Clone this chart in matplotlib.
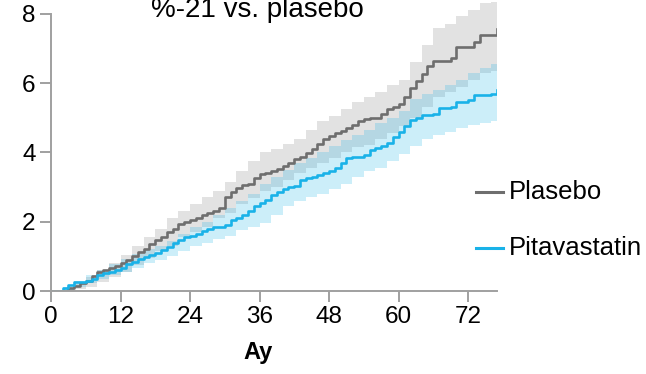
import numpy as np
import matplotlib
matplotlib.use('Agg')
from matplotlib import pyplot as plt
from matplotlib.lines import Line2D

plt.rcParams['font.family'] = ['Liberation Sans', 'DejaVu Sans']

# monthly cumulative incidence
line_months = list(range(0, 78))
plasebo = [0, 0, 0, 0.1, 0.15, 0.23, 0.3, 0.42, 0.55, 0.62, 0.66, 0.72, 0.8, 0.9, 1.0, 1.12,
           1.2, 1.35, 1.47, 1.57, 1.7, 1.8, 1.93, 2.0, 2.05, 2.12, 2.2, 2.25, 2.3, 2.4,
           2.7, 2.85, 2.98, 3.05, 3.1, 3.25, 3.38, 3.42, 3.45, 3.52, 3.6, 3.7, 3.8, 3.88,
           3.97, 4.1, 4.25, 4.38, 4.47, 4.55, 4.62, 4.7, 4.8, 4.9, 4.97, 4.98, 5.0, 5.1,
           5.25, 5.3, 5.4, 5.6, 5.85, 6.05, 6.25, 6.5, 6.65, 6.65, 6.65, 6.73, 7.05, 7.05,
           7.05, 7.2, 7.4, 7.4, 7.4, 7.55]
pita = [0, 0, 0.08, 0.18, 0.25, 0.27, 0.3, 0.36, 0.45, 0.52, 0.55, 0.6, 0.67, 0.78, 0.85, 0.93,
        0.99, 1.05, 1.1, 1.18, 1.28, 1.38, 1.48, 1.55, 1.6, 1.65, 1.72, 1.78, 1.84, 1.86,
        1.9, 2.05, 2.12, 2.2, 2.3, 2.45, 2.55, 2.63, 2.77, 2.85, 2.95, 3.0, 3.02, 3.2,
        3.27, 3.3, 3.35, 3.4, 3.45, 3.55, 3.7, 3.83, 3.87, 3.87, 3.92, 4.07, 4.12, 4.2,
        4.28, 4.45, 4.6, 4.75, 4.94, 4.98, 5.08, 5.08, 5.1, 5.28, 5.28, 5.3, 5.47, 5.47,
        5.5, 5.66, 5.66, 5.66, 5.7, 5.8]

# confidence bands
band_months = [0, 2, 4, 6, 8, 10, 12, 14, 16, 18, 20, 22, 24, 26, 28, 30, 32, 34, 36, 38,
               40, 42, 44, 46, 48, 50, 52, 54, 56, 58, 60, 62, 64, 66, 68, 70, 72, 74, 76, 77]
plasebo_hi = [0, 0.05, 0.2, 0.4, 0.6, 0.8, 1.05, 1.3, 1.55, 1.8, 2.1, 2.3, 2.5, 2.7, 2.9, 3.15,
              3.45, 3.75, 4.0, 4.1, 4.25, 4.4, 4.65, 4.9, 5.05, 5.25, 5.45, 5.6, 5.75, 5.95,
              6.1, 6.6, 7.1, 7.6, 7.7, 7.95, 8.1, 8.3, 8.35, 8.4]
plasebo_lo = [0, 0, 0.05, 0.12, 0.25, 0.4, 0.55, 0.75, 0.95, 1.15, 1.3, 1.55, 1.7, 1.85, 2.1, 2.25,
              2.5, 2.68, 2.9, 3.0, 3.2, 3.4, 3.55, 3.7, 3.85, 4.0, 4.15, 4.22, 4.4, 4.55,
              4.75, 5.0, 5.3, 5.6, 5.75, 5.9, 6.1, 6.3, 6.35, 6.4]
pita_hi = [0, 0.12, 0.3, 0.45, 0.6, 0.78, 0.92, 1.08, 1.2, 1.3, 1.45, 1.65, 1.85, 2.0, 2.2, 2.4,
           2.6, 2.8, 3.1, 3.3, 3.5, 3.7, 3.85, 4.0, 4.2, 4.35, 4.5, 4.65, 4.85, 5.0,
           5.2, 5.55, 5.7, 5.8, 5.95, 6.1, 6.3, 6.45, 6.55, 6.75]
pita_lo = [0, 0.02, 0.12, 0.22, 0.35, 0.45, 0.55, 0.65, 0.8, 0.9, 1.0, 1.15, 1.3, 1.4, 1.5, 1.6,
           1.75, 1.85, 1.95, 2.2, 2.45, 2.6, 2.7, 2.8, 2.95, 3.1, 3.3, 3.45, 3.55, 3.75,
           3.95, 4.2, 4.4, 4.5, 4.6, 4.7, 4.8, 4.85, 4.9, 4.95]

xticks = [0, 12, 24, 36, 48, 60, 72]
yticks = [0, 2, 4, 6, 8]

gray = '#6e6e6e'
blue = '#19b2e8'
axis_col = '#a0a0a0'

fig = plt.figure(figsize=(6.46, 3.74), dpi=100)
ax = fig.add_axes([51/646, 1 - 291/374, (497 - 51)/646, 291/374])

# bands
ax.fill_between(band_months, plasebo_lo, plasebo_hi, step='post', color='#e2e2e2', lw=0, clip_on=False)
ax.fill_between(band_months, pita_lo, pita_hi, step='post', color=blue, alpha=0.22, lw=0, clip_on=False)
# lines
ax.plot(line_months, plasebo, drawstyle='steps-post', color=gray, lw=1.9)
ax.plot(line_months, pita, drawstyle='steps-post', color=blue, lw=1.9)

ax.set_xlim(0, 77)
ax.set_ylim(0, 8.4)
ax.spines['left'].set_bounds(0, 8)
for s in ['top', 'right']:
    ax.spines[s].set_visible(False)
for s in ['left', 'bottom']:
    ax.spines[s].set_color(axis_col)
    ax.spines[s].set_linewidth(1.4)
ax.set_xticks(xticks)
ax.set_yticks(yticks)
ax.tick_params(length=8, width=1.4, color=axis_col, labelsize=17.5, pad=3)

fig.text(258/646, 1 - 359/374, 'Ay', fontsize=17, fontweight='bold', ha='center', va='baseline')
fig.text(257/646, 1 - 17/374, '%-21 vs. plasebo', fontsize=20, ha='center', va='baseline')

# legend
fig.add_artist(Line2D([476/646, 503/646], [1 - 192/374] * 2, color=gray, lw=2.2))
fig.add_artist(Line2D([476/646, 503/646], [1 - 248/374] * 2, color=blue, lw=2.2))
fig.text(509/646, 1 - 192/374, 'Plasebo', fontsize=18.5, va='center')
fig.text(509/646, 1 - 248/374, 'Pitavastatin', fontsize=18.5, va='center')

fig.savefig('out.png', dpi=100)
